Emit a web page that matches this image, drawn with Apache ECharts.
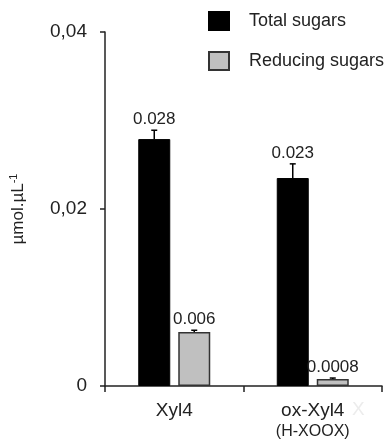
<!DOCTYPE html>
<html>
<head>
<meta charset="utf-8">
<script src="https://cdn.jsdelivr.net/npm/echarts@6/dist/echarts.min.js"></script>
<style>
  html, body { margin: 0; padding: 0; background: #fff; }
  #chart { width: 386px; height: 446px; }
</style>
</head>
<body>
<div id="chart"></div>
<script>
  var categories = ["Xyl4", "ox-Xyl4"];
  var categorySubs = ["", "(H-XOOX)"];
  var totalSugars = [0.0279, 0.0235];
  var totalErr = [0.0010, 0.0016];
  var totalLabels = ["0.028", "0.023"];
  var reducingSugars = [0.0061, 0.0008];
  var reducingErr = [0.0002, 0.0001];
  var reducingLabels = ["0.006", "0.0008"];
  var yTicks = [0, 0.02, 0.04];

  var FONT = "Liberation Sans, Arial, sans-serif";
  var BAR_W = 32;
  var BAR_GAP = 8;

  var chart = echarts.init(document.getElementById("chart"), null, { renderer: "canvas" });

  // error bar + value label, shifted to sit over its own bar
  function errorSeries(name, values, errs, labels, shift) {
    var data = [];
    for (var i = 0; i < values.length; i++) {
      data.push([i, values[i], errs[i], labels[i]]);
    }
    return {
      name: name + " err",
      type: "custom",
      z: 5,
      data: data,
      renderItem: function (params, api) {
        var cat = api.value(0);
        var top = api.coord([cat, api.value(1) + api.value(2)]);
        var base = api.coord([cat, api.value(1)]);
        var x = top[0] + shift;
        return {
          type: "group",
          children: [
            { type: "line", shape: { x1: x, y1: base[1], x2: x, y2: top[1] },
              style: { stroke: "#000", lineWidth: 1.5 } },
            { type: "line", shape: { x1: x - 3, y1: top[1], x2: x + 3, y2: top[1] },
              style: { stroke: "#000", lineWidth: 1.5 } },
            { type: "text",
              style: { x: x, y: top[1] - 2, text: data[params.dataIndex][3],
                       align: "center", verticalAlign: "bottom",
                       font: "17px " + FONT, fill: "#222" } }
          ]
        };
      }
    };
  }

  var shift = (BAR_W + BAR_GAP) / 2;

  var option = {
    backgroundColor: "#fff",
    animation: false,
    grid: { left: 100, right: 4, top: 32, bottom: 60 },
    legend: {
      orient: "vertical",
      left: 208,
      top: 11,
      padding: 0,
      icon: "rect",
      itemWidth: 20,
      itemHeight: 18,
      itemGap: 20,
      data: ["Total sugars", "Reducing sugars"],
      textStyle: { fontFamily: FONT, fontSize: 18, color: "#222", padding: [0, 0, 0, 15] }
    },
    xAxis: {
      type: "category",
      data: categories,
      axisLine: { lineStyle: { color: "#222", width: 1.5 } },
      axisTick: { show: true, length: 6, alignWithLabel: false, lineStyle: { color: "#222", width: 1.5 } },
      axisLabel: {
        margin: 14,
        fontFamily: FONT,
        color: "#222",
        formatter: function (v, i) {
          var s = "{main|" + v + "}";
          if (categorySubs[i]) s += "\n{sub|" + categorySubs[i] + "}";
          return s;
        },
        rich: {
          main: { fontFamily: FONT, fontSize: 19, color: "#222", lineHeight: 22 },
          sub: { fontFamily: FONT, fontSize: 16, color: "#222", lineHeight: 20 }
        }
      }
    },
    yAxis: {
      type: "value",
      min: yTicks[0],
      max: yTicks[yTicks.length - 1],
      interval: yTicks[1] - yTicks[0],
      splitLine: { show: false },
      axisLine: { show: true, lineStyle: { color: "#222", width: 1.5 } },
      axisTick: { show: true, length: 5, lineStyle: { color: "#222", width: 1.5 } },
      axisLabel: {
        margin: 18,
        fontFamily: FONT,
        fontSize: 19,
        color: "#222",
        formatter: function (v) { return v === 0 ? "0" : v.toFixed(2).replace(".", ","); }
      },
      name: "{a|µmol.µL}{b|-1}",
      nameLocation: "middle",
      nameGap: 77,
      nameTextStyle: {
        rich: {
          a: { fontFamily: FONT, fontSize: 17, color: "#222" },
          b: { fontFamily: FONT, fontSize: 11, color: "#222", verticalAlign: "top", padding: [0, 0, 9, 0] }
        }
      }
    },
    series: [
      {
        name: "Total sugars",
        type: "bar",
        barWidth: BAR_W,
        barGap: (BAR_GAP / BAR_W * 100) + "%",
        data: totalSugars,
        itemStyle: { color: "#000", borderColor: "#000", borderWidth: 1 }
      },
      {
        name: "Reducing sugars",
        type: "bar",
        barWidth: BAR_W,
        data: reducingSugars,
        itemStyle: { color: "#c0c0c0", borderColor: "#333", borderWidth: 1.5 }
      },
      errorSeries("Total sugars", totalSugars, totalErr, totalLabels, -shift),
      errorSeries("Reducing sugars", reducingSugars, reducingErr, reducingLabels, shift)
    ],
    graphic: [
      { type: "text", left: 352, top: 400,
        style: { text: "X", font: "19px " + FONT, fill: "#ececec" } }
    ]
  };

  chart.setOption(option);
</script>
</body>
</html>
